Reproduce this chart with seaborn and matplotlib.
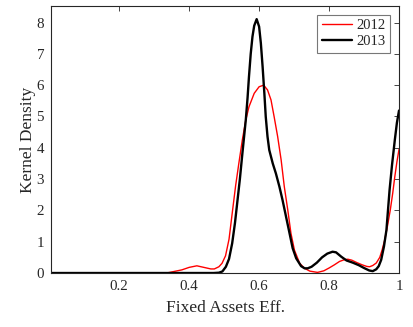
import matplotlib
matplotlib.use("Agg")
import matplotlib.pyplot as plt
import seaborn as sns
import pandas as pd

# Kernel density estimates of fixed-assets efficiency, by year
x_2012 = [0.005, 0.30, 0.34, 0.379, 0.40, 0.422, 0.446, 0.462, 0.472, 0.485,
          0.494, 0.504, 0.514, 0.523, 0.533, 0.542, 0.552, 0.562, 0.571,
          0.586, 0.600, 0.613, 0.624, 0.634, 0.643, 0.653, 0.663, 0.672,
          0.682, 0.691, 0.701, 0.716, 0.730, 0.745, 0.767, 0.785, 0.80,
          0.815, 0.83, 0.845, 0.854, 0.865, 0.88, 0.895, 0.908, 0.916,
          0.925, 0.935, 0.945, 0.952, 0.959, 0.967, 0.975, 0.982, 0.988,
          0.994, 1.0]
d_2012 = [0.0, 0.0, 0.01, 0.1, 0.18, 0.23, 0.17, 0.13, 0.13, 0.2,
          0.31, 0.55, 1.08, 1.9, 2.8, 3.5, 4.25, 4.89, 5.31,
          5.74, 5.95, 6.0, 5.85, 5.53, 4.99, 4.36, 3.61, 2.76,
          2.01, 1.27, 0.73, 0.31, 0.15, 0.06, 0.02, 0.07, 0.16,
          0.26, 0.37, 0.43, 0.44, 0.41, 0.33, 0.26, 0.21, 0.2,
          0.24, 0.32, 0.5, 0.75, 1.05, 1.5, 2.01, 2.55, 3.08,
          3.55, 3.95]

x_2013 = [0.005, 0.40, 0.47, 0.485, 0.495, 0.505, 0.514, 0.523, 0.531,
          0.538, 0.545, 0.552, 0.557, 0.562, 0.567, 0.571, 0.576, 0.581,
          0.586, 0.593, 0.600, 0.605, 0.610, 0.615, 0.619, 0.624, 0.629,
          0.639, 0.648, 0.658, 0.667, 0.677, 0.687, 0.696, 0.706, 0.72,
          0.73, 0.739, 0.75, 0.765, 0.78, 0.795, 0.81, 0.82, 0.835, 0.85,
          0.868, 0.885, 0.90, 0.915, 0.925, 0.935, 0.942, 0.949, 0.957,
          0.964, 0.973, 0.98, 0.988, 0.994, 1.0]
d_2013 = [0.0, 0.0, 0.0, 0.01, 0.05, 0.2, 0.45, 0.95, 1.6,
          2.3, 3.0, 3.8, 4.35, 4.9, 5.6, 6.27, 7.0, 7.55,
          7.9, 8.11, 7.87, 7.34, 6.59, 5.74, 4.99, 4.36, 3.93,
          3.5, 3.18, 2.76, 2.33, 1.8, 1.27, 0.79, 0.47, 0.22,
          0.15, 0.15, 0.2, 0.33, 0.5, 0.62, 0.68, 0.66, 0.52, 0.4,
          0.33, 0.25, 0.16, 0.08, 0.06, 0.12, 0.22, 0.42, 0.85,
          1.37, 2.65, 3.45, 4.25, 4.8, 5.19]

years = ["2012", "2013"]
colors = ["#ff0000", "#000000"]
widths = [1.0, 1.7]
x_ticks = [0.2, 0.4, 0.6, 0.8, 1.0]
x_tick_labels = ["0.2", "0.4", "0.6", "0.8", "1"]
y_ticks = [0, 1, 2, 3, 4, 5, 6, 7, 8]

df = pd.concat([
    pd.DataFrame({"x": x_2012, "density": d_2012, "year": "2012"}),
    pd.DataFrame({"x": x_2013, "density": d_2013, "year": "2013"}),
])

sns.set_theme(style="white")
plt.rcParams["font.family"] = ["Liberation Serif", "DejaVu Serif"]
axis_gray = "#262626"

fig = plt.figure(figsize=(4.14, 3.27), dpi=100)
ax = fig.add_axes([0.1232, 0.1651, 0.8406, 0.8166])

for year, c, lw in zip(years, colors, widths):
    sub = df[df["year"] == year]
    sns.lineplot(data=sub, x="x", y="density", color=c, linewidth=lw,
                 sort=False, estimator=None, ax=ax, label=year)
for line in ax.get_lines():
    line.set_solid_joinstyle("round")

ax.set_xlim(0.005, 1.0)
ax.set_ylim(0, 8.53)
ax.set_xticks(x_ticks)
ax.set_xticklabels(x_tick_labels)
ax.set_yticks(y_ticks)
ax.tick_params(direction="in", length=3.5, width=0.6, colors=axis_gray,
               labelsize=10.8, top=True, right=True, pad=5)
for sp in ax.spines.values():
    sp.set_color(axis_gray)
    sp.set_linewidth(0.8)
    sp.set_visible(True)

ax.set_xlabel("Fixed Assets Eff.", fontsize=12.5, color=axis_gray, labelpad=5)
ax.set_ylabel("Kernel Density", fontsize=12.5, color=axis_gray, labelpad=0)

leg = ax.legend(loc="upper right", fontsize=10.5, frameon=True, fancybox=False,
                handlelength=2.1, handletextpad=0.3, borderpad=0.3,
                labelspacing=0.2, borderaxespad=0.6)
leg.get_frame().set_edgecolor("#555555")
leg.get_frame().set_linewidth(0.8)
for t in leg.get_texts():
    t.set_color(axis_gray)

fig.savefig("out.png", dpi=100)
